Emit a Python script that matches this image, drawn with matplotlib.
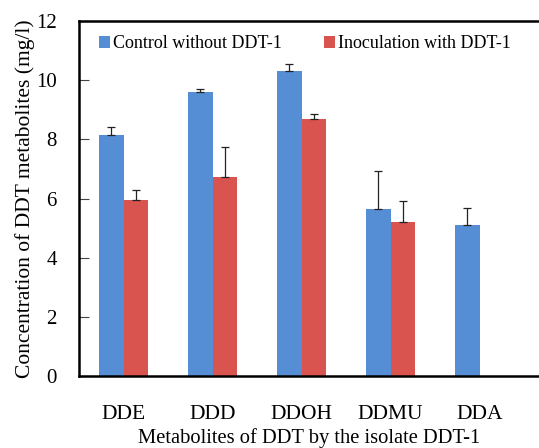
import matplotlib
matplotlib.use("Agg")
import matplotlib.pyplot as plt
import numpy as np

categories = ["DDE", "DDD", "DDOH", "DDMU", "DDA"]
control = [8.15, 9.60, 10.32, 5.65, 5.10]
control_err = [0.27, 0.10, 0.22, 1.28, 0.58]
inoc = [5.95, 6.73, 8.69, 5.20, 0.0]
inoc_err = [0.33, 1.00, 0.17, 0.72, 0.0]
series_names = ["Control without DDT-1", "Inoculation with DDT-1"]

plt.rcParams['font.family'] = ['Liberation Serif', 'DejaVu Serif']

fig = plt.figure(figsize=(5.39, 4.48), dpi=100)
ax = fig.add_axes([79/539, 1-376/448, (539-79)/539, (376-21)/448])

x = np.arange(len(categories))
w = 0.28
blue = '#558ed5'
red = '#d9534f'
ax.bar(x - w/2, control, w, color=blue, label=series_names[0], zorder=2)
ax.bar(x + w/2, inoc, w, color=red, label=series_names[1], zorder=2)
ekw = dict(fmt='none', ecolor='#222222', elinewidth=0.9, capsize=3, capthick=0.9, zorder=3)
ax.errorbar(x - w/2, control, yerr=[np.zeros(len(x)), control_err], **ekw)
mask = np.array(inoc) > 0
ax.errorbar((x + w/2)[mask], np.array(inoc)[mask],
            yerr=[np.zeros(mask.sum()), np.array(inoc_err)[mask]], **ekw)

ax.set_xlim(-0.5, -0.5 + 460/89)
ax.set_ylim(0, 12)
ax.set_yticks(range(0, 13, 2))
ax.tick_params(axis='y', direction='in', length=7, width=0.8, color='#444444',
               labelsize=15, pad=16)
ax.set_xticks(x)
ax.set_xticklabels(categories, fontsize=15.5)
ax.tick_params(axis='x', length=0, pad=21)

for s in ['left', 'bottom', 'top']:
    ax.spines[s].set_linewidth(1.8)
    ax.spines[s].set_color('black')
ax.spines['right'].set_visible(False)

ax.set_ylabel("Concentration of DDT metabolites (mg/l)", fontsize=15.5, labelpad=1)
ax.set_xlabel("Metabolites of DDT by the isolate DDT-1", fontsize=14.8, labelpad=3)

ax.legend(loc='upper left', bbox_to_anchor=(0.008, 1.005), ncol=2, frameon=False,
          fontsize=13, handlelength=0.6, handleheight=0.6, handletextpad=0.2,
          columnspacing=2.3)

fig.savefig("out.png", dpi=100)
